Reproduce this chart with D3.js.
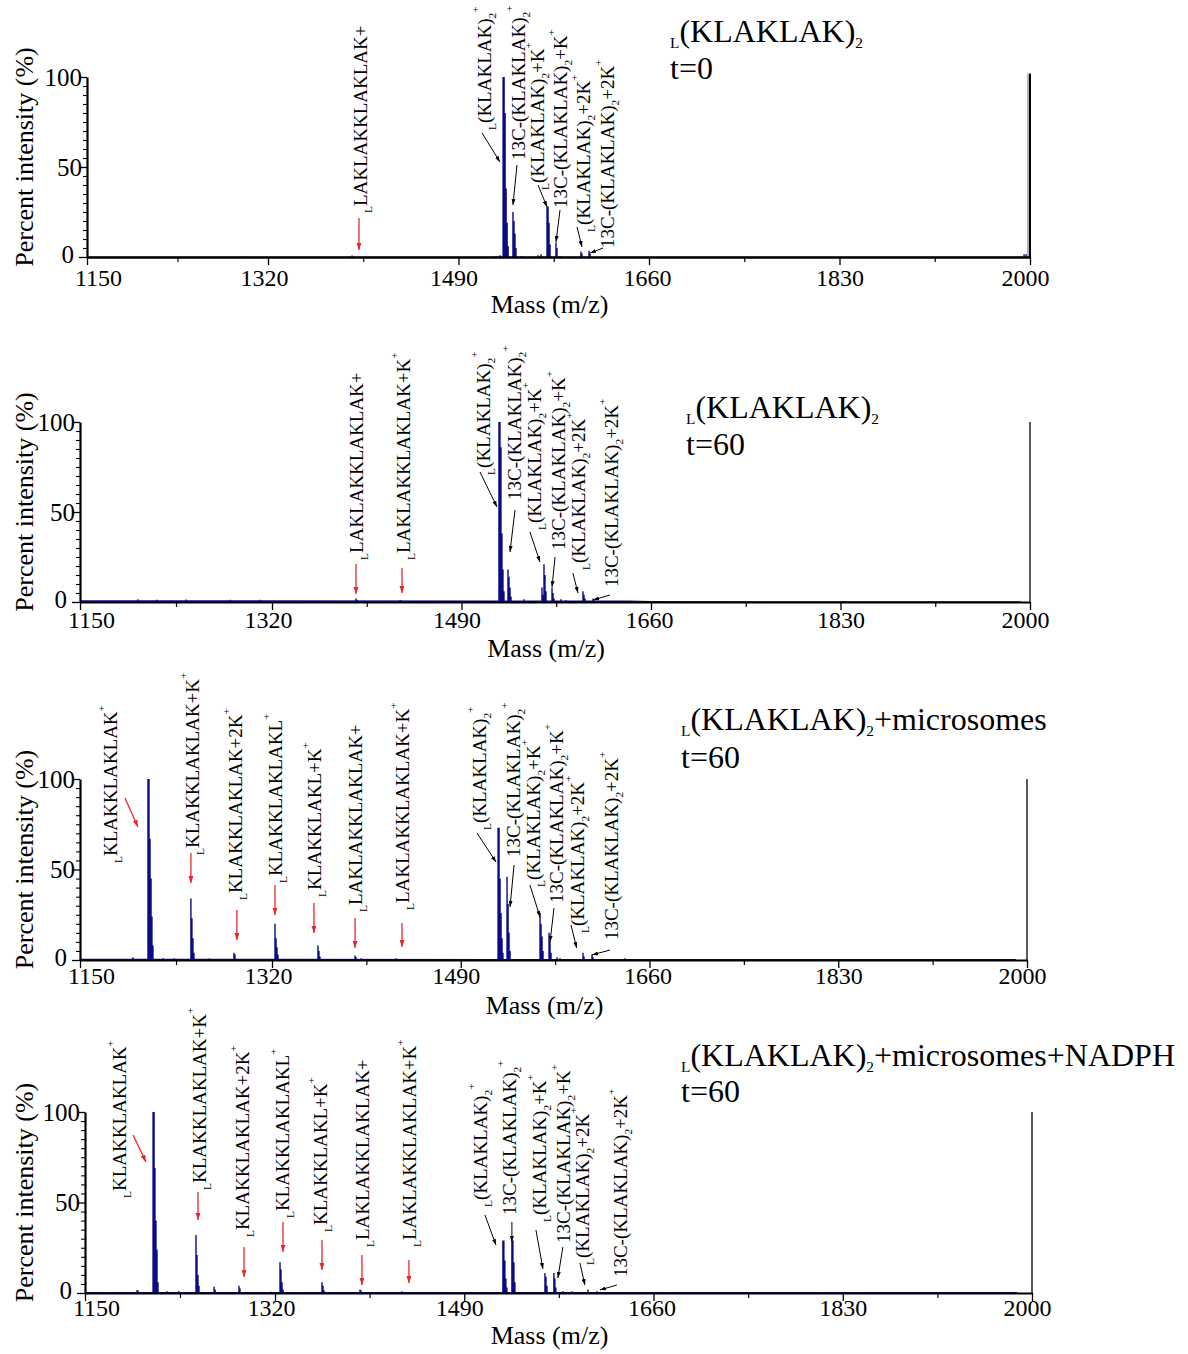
<!DOCTYPE html>
<html><head><meta charset="utf-8">
<script src="https://cdn.jsdelivr.net/npm/d3@7"></script>
<style>body{margin:0;background:#fff} text{font-family:"Liberation Serif","Times New Roman",serif;fill:#000}</style>
</head><body><svg id="c" width="1188" height="1354"></svg>
<script>
// ---------- data ----------
const xTicks = [1150, 1320, 1490, 1660, 1830, 2000];
const xMinor = [1235, 1405, 1575, 1745, 1915];
const yTicks = [0, 50, 100];
const yMinor = [5,10,15,20,25,30,35,40,45,55,60,65,70,75,80,85,90,95];

const titles = ["_{L}(KLAKLAK)_{2}", "_{L}(KLAKLAK)_{2}", "_{L}(KLAKLAK)_{2}+microsomes", "_{L}(KLAKLAK)_{2}+microsomes+NADPH"];
const times = ["t=0", "t=60", "t=60", "t=60"];

// [m/z, percent intensity]
const peaks1 = [[1295.5,0.3],[1395,0.8],[1523.5,0.5],[1527.1,1],
 [1529.8,100],[1530.7,100],[1531.6,80],[1532.5,38],[1533.4,19],[1534.3,6],
 [1538.6,25],[1539.5,20],[1540.4,13],[1541.3,5],
 [1546.7,0.6],[1561,1],[1563.6,1.5],
 [1569,28],[1569.9,28],[1570.8,19],[1571.7,7],
 [1577,8],[1577.9,5],[1580.6,0.6],
 [1599.3,3],[1600.2,2],[1606.5,3.5],[1607.4,2],
 [1994.7,1.5],[1996.5,1.5]];
const peaks2 = [[1201.3,1.5],[1218,1.3],[1244,1.4],[1283,1.2],[1309,1.2],
 [1395.3,2],[1396.2,1.2],[1434.8,1],[1435.7,0.8],[1506.6,0.7],
 [1523.6,100],[1524.5,100],[1525.4,86],[1526.3,38],[1527.2,18],[1528.1,6],
 [1531.7,18],[1532.6,14],[1533.5,8],[1534.4,3],
 [1546,1.5],[1562.2,8],[1563.1,4],[1564,21],[1564.9,15],[1565.8,6],
 [1571.2,8],[1572.1,5],[1573,2],[1579.2,1.5],[1583.7,1],
 [1599,6],[1599.9,4],[1600.8,2],[1608,2],[1608.9,1]];
const peaks3 = [[1196.9,1.5],[1210.2,100],[1211.1,100],[1212,67],[1212.9,45],[1213.7,24],[1214.6,8],
 [1223.5,1],[1233.2,1],
 [1248.2,34],[1249.1,23],[1250,12],[1250.9,4],
 [1264.2,0.8],[1286.3,4],[1287.2,3],
 [1322.7,20],[1323.6,12],[1324.5,7],[1325.4,3],
 [1361.4,8],[1362.3,5],[1363.2,2],
 [1394.8,2.5],[1395.7,1.5],[1400.3,1],[1431.8,1],
 [1523.6,73],[1524.5,73],[1525.4,45],[1526.3,26],[1527.2,12],[1528,4],
 [1531.7,46],[1532.6,31],[1533.5,15],[1534.4,5],
 [1561.4,26],[1562.3,20],[1563.2,13],[1564.1,5],
 [1569.5,15],[1570.4,10],[1571.3,4],
 [1576.7,1.5],[1579.4,1],
 [1600.1,4],[1601,2],[1608.2,3],[1609.1,1.5],[1638,1]];
const peaks4 = [[1196.5,1.5],[1197.4,1.5],[1210.9,100],[1211.8,100],[1212.6,69],[1213.5,40],[1214.4,24],[1215.3,6],
 [1223.4,1],[1234.1,1],
 [1249.3,32],[1250.2,21],[1251.1,10],[1252,4],
 [1265.5,3.5],[1266.4,2],[1287.8,4],[1288.7,2.5],[1316.4,0.7],
 [1324.5,17],[1325.4,13],[1326.3,6],[1327.2,2],
 [1362.2,6],[1363.1,4],[1364,1.5],
 [1396.3,2],[1397.2,1.5],[1434,1],
 [1524.7,29],[1525.6,29],[1526.5,18],[1527.4,8],[1528.3,3],
 [1532.8,29],[1533.7,29],[1534.6,17],[1535.5,6],
 [1562.5,11],[1563.4,9],[1564.3,4],
 [1570.5,11],[1571.4,8],[1572.3,3],
 [1578.6,1],[1586.7,1],[1601.1,2],[1609.2,1]];

// baseline noise level [m/z, percent]
const noise1 = [[1150,0.2],[2000,0.2]];
const noise2 = [[1150,1.0],[1640,0.8],[1660,0.5],[1992,0.4]];
const noise3 = [[1150,0.7],[1990,0.5]];
const noise4 = [[1150,0.6],[1987,0.5]];

// annotations: text, anchor (m/z, %), arrow (m/z,% -> m/z,%), frag = fragment (red arrow)
const labels1 = [
 {t:"_{L}LAKLAKKLAKLAK+", mz:1408.3, p:24.4, a:[1401.2,21.7,1401.2,3.9], frag:true},
 {t:"_{L}(KLAKLAK)_{2}^{+}", mz:1519, p:70.6, a:[1511,68.9,1527,52.8]},
 {t:"13C-(KLAKLAK)_{2}^{+}", mz:1549.3, p:53.9, a:[1542.2,51.1,1538.6,28.9]},
 {t:"_{L}(KLAKLAK)_{2}+K^{+}", mz:1566.3, p:37.2, a:[1561,40,1569,27.8]},
 {t:"13C-(KLAKLAK)_{2}+K^{+}", mz:1586.8, p:27.2, a:[1580.6,26.1,1577,8.3]},
 {t:"_{L}(KLAKLAK)_{2}+2K^{+}", mz:1607.4, p:13.9, a:[1595.8,16.7,1600.2,5.6]},
 {t:"13C-(KLAKLAK)_{2}+2K^{+}", mz:1628.8, p:5, a:[1619,5,1607.4,2.2]}];
const labels2 = [
 {t:"_{L}LAKLAKKLAKLAK+", mz:1401.6, p:23.3, a:[1395.3,21.1,1395.3,4.4], frag:true},
 {t:"_{L}LAKLAKKLAKLAK+K^{+}", mz:1443.8, p:23.3, a:[1436.6,18.9,1436.6,5], frag:true},
 {t:"_{L}(KLAKLAK)_{2}^{+}", mz:1515.5, p:70.6, a:[1506.6,72.2,1521.8,52.8]},
 {t:"13C-(KLAKLAK)_{2}^{+}", mz:1543.4, p:56.7, a:[1538,51.1,1533.5,27.8]},
 {t:"_{L}(KLAKLAK)_{2}+K^{+}", mz:1561.3, p:40, a:[1551.4,38.9,1560.4,22.2]},
 {t:"13C-(KLAKLAK)_{2}+K^{+}", mz:1582.8, p:28.9, a:[1573.9,25,1571.2,8.3]},
 {t:"_{L}(KLAKLAK)_{2}+2K^{+}", mz:1600.8, p:17.8, a:[1589.9,16.1,1594.5,5]},
 {t:"13C-(KLAKLAK)_{2}+2K^{+}", mz:1630.4, p:8.3, a:[1623.2,3.9,1608,1.1]}];
const labels3 = [
 {t:"_{L}KLAKKLAKLAK^{+}", mz:1182.7, p:53.6, a:[1189.8,89.5,1201.3,73.5], frag:true},
 {t:"_{L}KLAKKLAKLAK+K^{+}", mz:1255.3, p:58, a:[1248.2,59.1,1248.2,42.5], frag:true},
 {t:"_{L}KLAKKLAKLAK+2K^{+}", mz:1293.4, p:33.1, a:[1288.9,27.6,1288.9,11], frag:true},
 {t:"_{L}KLAKKLAKLAKL^{+}", mz:1329, p:42.5, a:[1322.7,41.4,1322.7,24.9], frag:true},
 {t:"_{L}KLAKKLAKL+K^{+}", mz:1364.1, p:34.8, a:[1357.8,31.5,1357.8,14.9], frag:true},
 {t:"_{L}LAKLAKKLAKLAK+", mz:1401.1, p:26.5, a:[1394.8,23.2,1394.8,6.6], frag:true},
 {t:"_{L}LAKLAKKLAKLAK+K^{+}", mz:1443.4, p:27.6, a:[1437.1,20.4,1437.1,7.2], frag:true},
 {t:"_{L}(KLAKLAK)_{2}^{+}", mz:1512.7, p:71.8, a:[1504.6,70.2,1521.8,54.1]},
 {t:"13C-(KLAKLAK)_{2}^{+}", mz:1543.4, p:56.9, a:[1538,52.5,1534.4,29.3]},
 {t:"_{L}(KLAKLAK)_{2}+K^{+}", mz:1561.4, p:40.3, a:[1552.3,41.4,1561.4,23.8]},
 {t:"13C-(KLAKLAK)_{2}+K^{+}", mz:1582.1, p:31.5, a:[1574,28.7,1570.4,9.9]},
 {t:"_{L}(KLAKLAK)_{2}+2K^{+}", mz:1601, p:14.9, a:[1589.3,19.3,1594.4,6.6]},
 {t:"13C-(KLAKLAK)_{2}+2K^{+}", mz:1631.6, p:11, a:[1624.4,5.5,1608.2,2.8]}];
const labels4 = [
 {t:"_{L}KLAKKLAKLAK^{+}", mz:1186.7, p:52.5, a:[1193,87.3,1204.6,72.4], frag:true},
 {t:"_{L}KLAKKLAKLAK+K^{+}", mz:1258.3, p:56.9, a:[1251.1,55.8,1251.1,40.3], frag:true},
 {t:"_{L}KLAKKLAKLAK+2K^{+}", mz:1296.8, p:30.9, a:[1292.3,25.4,1292.3,8.8], frag:true},
 {t:"_{L}KLAKKLAKLAKL^{+}", mz:1332.6, p:41.4, a:[1327.2,39.2,1327.2,22.7], frag:true},
 {t:"_{L}KLAKKLAKL+K^{+}", mz:1366.6, p:33.7, a:[1362.2,29.3,1362.2,12.7], frag:true},
 {t:"_{L}LAKLAKKLAKLAK+", mz:1404.4, p:25.4, a:[1398.1,21,1398.1,4.4], frag:true},
 {t:"_{L}LAKLAKKLAKLAK+K^{+}", mz:1446.6, p:25.4, a:[1440.3,18.2,1440.3,5.5], frag:true},
 {t:"_{L}(KLAKLAK)_{2}^{+}", mz:1510.4, p:47.5, a:[1508.6,43.1,1518.5,26.5]},
 {t:"13C-(KLAKLAK)_{2}^{+}", mz:1536.4, p:43.1, a:[1532.8,39.2,1532.8,28.2]},
 {t:"_{L}(KLAKLAK)_{2}+K^{+}", mz:1563.4, p:39.2, a:[1554.4,34.8,1560.7,13.3]},
 {t:"13C-(KLAKLAK)_{2}+K^{+}", mz:1584.9, p:27.6, a:[1578.6,25.4,1574.1,8.3]},
 {t:"_{L}(KLAKLAK)_{2}+2K^{+}", mz:1602, p:15.5, a:[1593.9,16.6,1598.4,4.4]},
 {t:"13C-(KLAKLAK)_{2}+2K^{+}", mz:1636.1, p:8.8, a:[1627.1,4.4,1611.9,1.7]}];

// ---------- layout ----------
const layout = [
 {x0:87, x1320:268, x2000:1030, yT:77,   yB:257,  tx:670, ty1:42,   ty2:79,   tickPad:4,  top:102, dbl:true, mOff:56},
 {x0:80, x1320:272, x2000:1030, yT:422,  yB:602,  tx:686, ty1:418,  ty2:455,  tickPad:1,  top:100, mOff:55},
 {x0:80, x1320:272, x2000:1027, yT:779,  yB:960,  tx:681, ty1:730,  ty2:768,  tickPad:-1, top:100, mOff:54},
 {x0:85, x1320:275, x2000:1032, yT:1112, yB:1293, tx:681, ty1:1066, ty2:1102, tickPad:-2, top:100, mOff:51}
];
const tickDx = [11, -4, -5, -2, 0, -5];
const allPeaks = [peaks1, peaks2, peaks3, peaks4];
const allNoise = [noise1, noise2, noise3, noise4];
const allLabels = [labels1, labels2, labels3, labels4];

const NAVY = "#0b0b86", RED = "#e8262d";
const svg = d3.select("#c");
const defs = svg.append("defs");
function marker(id, color, len, wid) {
  defs.append("marker").attr("id", id).attr("viewBox", `0 0 ${len} ${wid}`)
    .attr("refX", len).attr("refY", wid/2).attr("markerWidth", len).attr("markerHeight", wid)
    .attr("markerUnits", "userSpaceOnUse").attr("orient", "auto")
    .append("path").attr("d", `M0,0L${len},${wid/2}L0,${wid}Z`).attr("fill", color);
}
marker("ar", RED, 7, 5);
marker("ab", "#000", 6, 4);

function rich(sel, str, F, r, subS, supS) {
  const parts = str.split(/(_\{[^}]*\}|\^\{[^}]*\})/).filter(s => s.length);
  let shift = 0;
  parts.forEach(p => {
    let kind = 'n', t = p;
    if (p.startsWith('_{')) { kind = 'sub'; t = p.slice(2, -1); }
    else if (p.startsWith('^{')) { kind = 'sup'; t = p.slice(2, -1); }
    const target = kind === 'sub' ? subS * F : kind === 'sup' ? -supS * F : 0;
    sel.append("tspan").attr("dy", target - shift)
      .attr("font-size", kind === 'n' ? F : r * F).text(t);
    shift = target;
  });
}

layout.forEach((L, i) => {
  const g = svg.append("g");
  const x = d3.scaleLinear().domain([1150, 1320, 2000]).range([L.x0, L.x1320, L.x2000]);
  const y = d3.scaleLinear().domain([0, 100]).range([L.yB, L.yT]);

  // noise floor
  g.append("path").datum(allNoise[i])
    .attr("d", d3.area().x(d => x(d[0])).y0(y(0)).y1(d => y(d[1])))
    .attr("fill", NAVY);
  // peaks
  g.append("path")
    .attr("d", allPeaks[i].map(d => `M${x(d[0]).toFixed(2)},${y(0)}V${y(d[1]).toFixed(2)}`).join(""))
    .attr("stroke", NAVY).attr("stroke-width", 1.4).attr("fill", "none");

  // right frame line
  if (L.dbl) {
    g.append("line").attr("x1", x(2000) - 2).attr("x2", x(2000) - 2).attr("y1", y(L.top)).attr("y2", y(0))
      .attr("stroke", "#999").attr("stroke-width", 1.5);
  }
  g.append("line").attr("x1", x(2000)).attr("x2", x(2000)).attr("y1", y(L.top)).attr("y2", y(0))
    .attr("stroke", "#000").attr("stroke-width", L.dbl ? 2 : 1.3);

  // x axis
  const gx = g.append("g").attr("transform", `translate(0,${L.yB})`)
    .call(d3.axisBottom(x).tickValues(xTicks).tickFormat(d3.format("d")).tickSize(8).tickSizeOuter(0).tickPadding(L.tickPad));
  gx.select(".domain").attr("stroke-width", L.dbl ? 2.6 : 2.2);
  gx.selectAll(".tick line").attr("stroke-width", 1.3);
  gx.selectAll("text").attr("font-size", 24).attr("font-family", "Liberation Serif")
    .attr("dx", (d, k) => tickDx[k]);
  const gxm = g.append("g").attr("transform", `translate(0,${L.yB})`)
    .call(d3.axisBottom(x).tickValues(xMinor).tickSize(5).tickFormat(""));
  gxm.select(".domain").remove();
  gxm.selectAll(".tick line").attr("stroke-width", 1.2);

  // y axis
  const gy = g.append("g").attr("transform", `translate(${L.x0},0)`)
    .call(d3.axisLeft(y).tickValues(yTicks).tickSize(8).tickSizeOuter(0).tickPadding(-3));
  gy.select(".domain").attr("stroke-width", 2.2);
  gy.selectAll(".tick line").attr("stroke-width", 1.3);
  gy.selectAll("text").attr("font-size", 25).attr("font-family", "Liberation Serif")
    .attr("dx", d => d === 0 ? -8 : 0).attr("dy", d => d === 0 ? "0.2em" : "0.32em");
  const gym = g.append("g").attr("transform", `translate(${L.x0},0)`)
    .call(d3.axisLeft(y).tickValues(yMinor).tickSize(4).tickFormat(""));
  gym.select(".domain").remove();
  gym.selectAll(".tick line").attr("stroke-width", 1.1);

  // axis titles
  g.append("text").attr("transform", `translate(33,${(L.yT + L.yB) / 2 - 10}) rotate(-90)`)
    .attr("text-anchor", "middle").attr("font-size", 26).text("Percent intensity (%)");
  g.append("text").attr("x", (L.x0 + L.x2000) / 2 - 9).attr("y", L.yB + L.mOff)
    .attr("text-anchor", "middle").attr("font-size", 26).text("Mass (m/z)");

  // panel title
  rich(g.append("text").attr("x", L.tx).attr("y", L.ty1), titles[i], 32, 0.48, 0.2, 0.6);
  g.append("text").attr("x", L.tx).attr("y", L.ty2).attr("font-size", 32).text(times[i]);

  // annotations
  allLabels[i].forEach(lb => {
    const t = g.append("text").attr("transform", `translate(${x(lb.mz)},${y(lb.p)}) rotate(-90)`);
    rich(t, lb.t, 19, 0.6, 0.28, 0.62);
    g.append("line").attr("x1", x(lb.a[0])).attr("y1", y(lb.a[1])).attr("x2", x(lb.a[2])).attr("y2", y(lb.a[3]))
      .attr("stroke", lb.frag ? RED : "#000").attr("stroke-width", lb.frag ? 1.3 : 1)
      .attr("marker-end", lb.frag ? "url(#ar)" : "url(#ab)");
  });
});
</script></body></html>
